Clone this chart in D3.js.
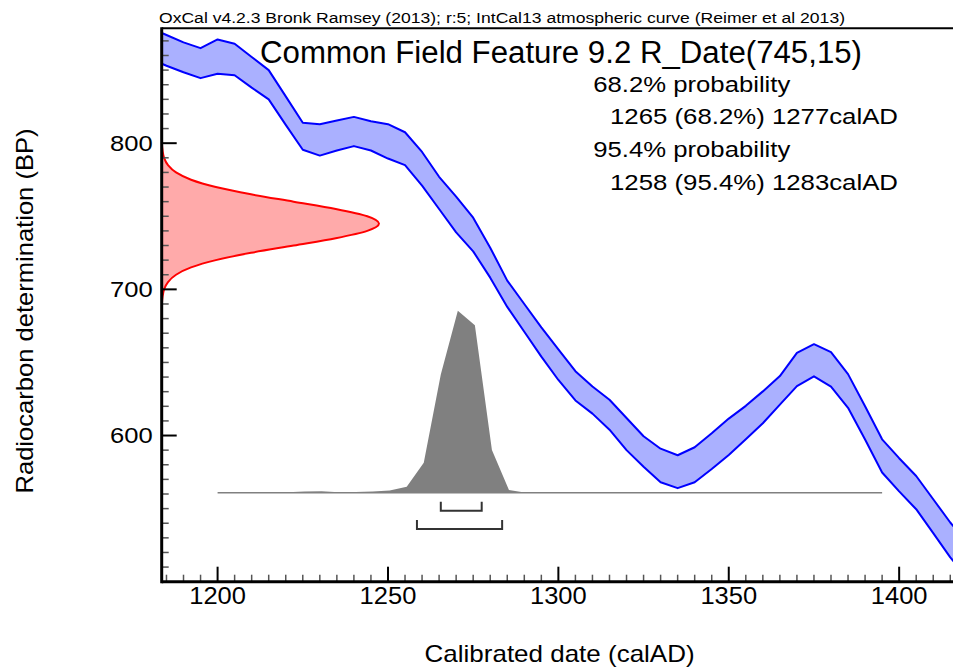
<!DOCTYPE html>
<html>
<head>
<meta charset="utf-8">
<script src="https://cdn.jsdelivr.net/npm/d3@7"></script>
<style>
  body { margin: 0; background: #fff; }
  svg { display: block; font-family: "Liberation Sans", Arial, sans-serif; }
</style>
</head>
<body>
<div id="chart"></div>
<script>
// IntCal13 band (calAD, upper / lower BP)
const curveYears = [1180, 1185, 1190, 1195, 1200, 1205, 1210, 1215, 1220, 1225, 1230, 1235, 1240, 1245, 1250,
  1255, 1260, 1265, 1270, 1275, 1280, 1285, 1290, 1295, 1300, 1305, 1310, 1315, 1320, 1325, 1330, 1335,
  1340, 1345, 1350, 1355, 1360, 1365, 1370, 1375, 1380, 1385, 1390, 1395, 1400, 1405, 1410, 1415, 1420];
const curveUpper = [879, 874, 869, 865, 871, 868, 859, 850, 832, 814, 813, 815.5, 818, 815, 813,
  807.5, 794, 777, 763.5, 749, 728.5, 706, 690, 674, 659, 644, 633.5, 624.5, 612, 599.5, 591, 586.5,
  592, 601.5, 611.6, 620.3, 630.2, 640.7, 656.5, 662.5, 657, 642, 620, 597.4, 584.5, 572.3, 556.4, 540.5, 527];
const curveLower = [858, 853, 848.5, 844.5, 847.5, 846.5, 838, 830, 812.5, 795.5, 791.5, 795, 798, 795, 789.5,
  785, 771, 755, 739, 726, 708, 688, 671, 654, 638, 624, 615, 604, 590, 578.7, 568, 564,
  568, 577.1, 586.7, 597.4, 608.4, 621.1, 633.8, 640.5, 633.5, 619, 597.3, 574.7, 561.8, 549.6, 533.2, 516.6, 503];

// R_Date(745,15) : radiocarbon likelihood (relative)
const rdateBP = [690, 695, 700, 705, 710, 715, 720, 725, 730, 735, 740, 745, 750, 755, 760, 765, 770, 775, 780, 785, 790, 795, 800];
const rdateProb = [0.001, 0.004, 0.011, 0.029, 0.066, 0.135, 0.249, 0.411, 0.607, 0.801, 0.946, 1, 0.946, 0.801, 0.607, 0.411, 0.249, 0.135, 0.066, 0.029, 0.011, 0.004, 0.001];

// calibrated distribution (relative)
const calYears = [1200, 1205, 1210, 1215, 1220, 1225, 1230, 1235, 1240, 1245, 1250, 1255, 1260, 1265, 1270, 1275, 1280, 1285, 1290, 1295, 1300, 1395];
const calProb  = [0, 0, 0, 0, 0.002, 0.006, 0.008, 0.003, 0.004, 0.006, 0.012, 0.033, 0.165, 0.65, 1, 0.92, 0.235, 0.015, 0, 0, 0, 0];

const ranges = [
  { label: "68.2%", from: 1265, to: 1277 },
  { label: "95.4%", from: 1258, to: 1283 }
];

const xMajor = [1200, 1250, 1300, 1350, 1400];
const yMajor = [600, 700, 800];

const headerText = "OxCal v4.2.3 Bronk Ramsey (2013); r:5; IntCal13 atmospheric curve (Reimer et al 2013)";
const titleText = "Common Field Feature 9.2 R_Date(745,15)";
const probLines = ["68.2% probability", "1265 (68.2%) 1277calAD", "95.4% probability", "1258 (95.4%) 1283calAD"];

const width = 953, height = 667;
const plotLeft = 161.7, plotTop = 28.3, plotBottom = 581.7, plotRight = 953;

const svg = d3.select("#chart").append("svg")
  .attr("width", width)
  .attr("height", height);

const x = d3.scaleLinear().domain([1183.6, 1415.8]).range([plotLeft, plotRight]);
const y = d3.scaleLinear().domain([500, 878.6]).range([plotBottom, plotTop]);
const rx = d3.scaleLinear().domain([0, 1]).range([plotLeft, 379]);   // red likelihood width
const hy = d3.scaleLinear().domain([0, 1]).range([492.7, 310.7]);    // calibrated histogram height
const xc = d => x(d + 0.5);                                           // year centre

svg.append("defs").append("clipPath").attr("id", "plot")
  .append("rect").attr("x", plotLeft).attr("y", plotTop)
  .attr("width", plotRight - plotLeft).attr("height", plotBottom - plotTop);

const plot = svg.append("g").attr("clip-path", "url(#plot)");

// calibration curve band
const band = curveYears.map((d, i) => ({ year: d, hi: curveUpper[i], lo: curveLower[i] }));
plot.append("path")
  .datum(band)
  .attr("fill", "#aab0ff")
  .attr("d", d3.area().x(d => x(d.year)).y0(d => y(d.lo)).y1(d => y(d.hi)));
["hi", "lo"].forEach(k => {
  plot.append("path")
    .datum(band)
    .attr("fill", "none")
    .attr("stroke", "#0000ff")
    .attr("stroke-width", 2)
    .attr("stroke-linejoin", "round")
    .attr("d", d3.line().x(d => x(d.year)).y(d => y(d[k])));
});

// radiocarbon date on the y axis
const rdate = rdateBP.map((d, i) => ({ bp: d, p: rdateProb[i] }));
plot.append("path")
  .datum(rdate)
  .attr("fill", "#ffaaaa")
  .attr("d", d3.area().curve(d3.curveMonotoneY).y(d => y(d.bp)).x0(plotLeft).x1(d => rx(d.p)));
plot.append("path")
  .datum(rdate)
  .attr("fill", "none")
  .attr("stroke", "#ff0000")
  .attr("stroke-width", 2)
  .attr("d", d3.line().curve(d3.curveMonotoneY).y(d => y(d.bp)).x(d => rx(d.p)));

// calibrated distribution
const cal = calYears.map((d, i) => ({ year: d, p: calProb[i] }));
plot.append("path")
  .datum(cal)
  .attr("fill", "#808080")
  .attr("d", d3.area().x(d => xc(d.year)).y0(hy(0)).y1(d => hy(d.p)));
plot.append("line")
  .attr("x1", x(calYears[0])).attr("x2", x(calYears[calYears.length - 1]))
  .attr("y1", hy(0)).attr("y2", hy(0))
  .attr("stroke", "#808080").attr("stroke-width", 1.5);

// range brackets
ranges.forEach((r, i) => {
  const yb = 510.7 + i * 18.3;
  plot.append("path")
    .attr("fill", "none")
    .attr("stroke", "#333")
    .attr("stroke-width", 2)
    .attr("d", `M${xc(r.from)},${yb - 9}V${yb}H${xc(r.to)}V${yb - 9}`);
});

// ticks
const xMinor = d3.range(1185, 1416, 5).filter(v => v % 50);
const yMinor = d3.range(510, 880, 10).filter(v => v % 100);
const ticks = svg.append("g");
ticks.selectAll(".xminor").data(xMinor).join("line")
  .attr("x1", d => x(d)).attr("x2", d => x(d))
  .attr("y1", plotBottom).attr("y2", plotBottom - 7)
  .attr("stroke", "#555").attr("stroke-width", 1.5);
ticks.selectAll(".xmajor").data(xMajor).join("line")
  .attr("x1", d => x(d)).attr("x2", d => x(d))
  .attr("y1", plotBottom).attr("y2", plotBottom - 15)
  .attr("stroke", "#000").attr("stroke-width", 2);
ticks.selectAll(".yminor").data(yMinor).join("line")
  .attr("x1", plotLeft).attr("x2", plotLeft + 7)
  .attr("y1", d => y(d)).attr("y2", d => y(d))
  .attr("stroke", "#555").attr("stroke-width", 1.5);
ticks.selectAll(".ymajor").data(yMajor).join("line")
  .attr("x1", plotLeft).attr("x2", plotLeft + 15)
  .attr("y1", d => y(d)).attr("y2", d => y(d))
  .attr("stroke", "#000").attr("stroke-width", 2);

svg.append("g").selectAll("text").data(xMajor).join("text")
  .attr("x", d => x(d)).attr("y", 603.5)
  .attr("text-anchor", "middle")
  .attr("font-size", 23)
  .attr("textLength", 56.7)
  .attr("lengthAdjust", "spacingAndGlyphs")
  .text(d3.format("d"));
svg.append("g").selectAll("text").data(yMajor).join("text")
  .attr("x", plotLeft - 9).attr("y", d => y(d) + 7.5)
  .attr("text-anchor", "end")
  .attr("font-size", 22)
  .attr("textLength", 42.7)
  .attr("lengthAdjust", "spacingAndGlyphs")
  .text(d3.format("d"));

// frame
svg.append("line").attr("x1", plotLeft).attr("x2", plotRight).attr("y1", plotTop).attr("y2", plotTop)
  .attr("stroke", "#000").attr("stroke-width", 2);
svg.append("line").attr("x1", plotLeft).attr("x2", plotLeft).attr("y1", plotTop - 1).attr("y2", plotBottom + 1.5)
  .attr("stroke", "#000").attr("stroke-width", 3);
svg.append("line").attr("x1", plotLeft).attr("x2", plotRight).attr("y1", plotBottom).attr("y2", plotBottom)
  .attr("stroke", "#000").attr("stroke-width", 3);

// texts
svg.append("text")
  .attr("x", 159).attr("y", 23)
  .attr("font-family", "Liberation Sans Narrow, Liberation Sans, Arial, sans-serif")
  .attr("font-size", 14)
  .attr("textLength", 686)
  .attr("lengthAdjust", "spacingAndGlyphs")
  .text(headerText);

svg.append("text")
  .attr("x", 260).attr("y", 62.7)
  .attr("font-size", 31)
  .attr("textLength", 602)
  .attr("lengthAdjust", "spacingAndGlyphs")
  .text(titleText);

probLines.forEach((t, i) => {
  svg.append("text")
    .attr("x", i % 2 ? 610 : 593.3)
    .attr("y", 91.7 + i * 32.6)
    .attr("font-size", 21.5)
    .attr("textLength", i % 2 ? 288 : 197)
    .attr("lengthAdjust", "spacingAndGlyphs")
    .text(t);
});

svg.append("text")
  .attr("x", 559.6).attr("y", 662)
  .attr("text-anchor", "middle")
  .attr("font-size", 24)
  .attr("textLength", 270)
  .attr("lengthAdjust", "spacingAndGlyphs")
  .text("Calibrated date (calAD)");

svg.append("text")
  .attr("transform", "translate(33,311) rotate(-90)")
  .attr("text-anchor", "middle")
  .attr("font-size", 24)
  .attr("textLength", 365)
  .attr("lengthAdjust", "spacingAndGlyphs")
  .text("Radiocarbon determination (BP)");
</script>
</body>
</html>
